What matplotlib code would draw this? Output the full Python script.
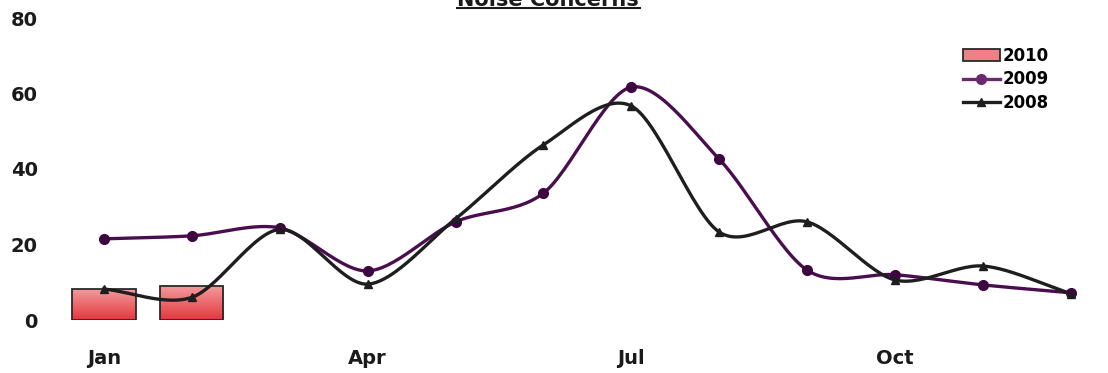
import numpy as np
import matplotlib.pyplot as plt
from matplotlib.colors import LinearSegmentedColormap
from matplotlib.patches import Patch
from matplotlib.lines import Line2D

months = ['Jan', 'Feb', 'Mar', 'Apr', 'May', 'Jun', 'Jul', 'Aug', 'Sep', 'Oct', 'Nov', 'Dec']
shown_ticks = ['Jan', 'Apr', 'Jul', 'Oct']
vals_2010 = [8.2, 9.0]
vals_2009 = [21.5, 22.3, 24.4, 13.0, 26.0, 33.6, 61.7, 42.6, 13.2, 12.0, 9.3, 7.2]
vals_2008 = [8.2, 6.0, 24.0, 9.5, 26.8, 46.4, 56.7, 23.3, 26.0, 10.6, 14.3, 7.0]


def smooth(x, y, n=30):
    # Catmull-Rom style curve through the points, like Excel's smoothed lines
    x = np.asarray(x, float)
    y = np.asarray(y, float)
    px = np.concatenate([[2 * x[0] - x[1]], x, [2 * x[-1] - x[-2]]])
    py = np.concatenate([[2 * y[0] - y[1]], y, [2 * y[-1] - y[-2]]])
    xs, ys = [], []
    t = np.linspace(0, 1, n)
    for i in range(1, len(px) - 2):
        p0, p1, p2, p3 = [np.array([px[j], py[j]]) for j in range(i - 1, i + 3)]
        m1 = (p2 - p0) / 2 * 0.9
        m2 = (p3 - p1) / 2 * 0.9
        h00 = 2 * t**3 - 3 * t**2 + 1
        h10 = t**3 - 2 * t**2 + t
        h01 = -2 * t**3 + 3 * t**2
        h11 = t**3 - t**2
        pts = np.outer(h00, p1) + np.outer(h10, m1) + np.outer(h01, p2) + np.outer(h11, m2)
        xs.extend(pts[:, 0])
        ys.extend(pts[:, 1])
    return np.array(xs), np.array(ys)


fig = plt.figure(figsize=(11.08, 3.73), dpi=100)
ax = fig.add_axes([60 / 1108, 53 / 373, 1046 / 1108, 302 / 373])

x = np.arange(len(months))

# 2010 bars with a red-to-pink gradient
bars = ax.bar(x[:len(vals_2010)], vals_2010, width=0.72, color='#ee5a60',
              linewidth=0, zorder=2)
cmap = LinearSegmentedColormap.from_list('rg', ['#e4373c', '#f39a9d'])
grad = np.linspace(0, 1, 100).reshape(-1, 1)
for b in bars:
    bx, by = b.get_x(), b.get_y()
    im = ax.imshow(grad, cmap=cmap, aspect='auto', origin='lower',
                   extent=[bx, bx + b.get_width(), by, by + b.get_height()], zorder=2)
    im.set_clip_path(b)
ax.bar(x[:len(vals_2010)], vals_2010, width=0.72, fill=False,
       edgecolor='#2a2a2a', linewidth=1.3, zorder=2.5)

sx, sy = smooth(x, vals_2009)
ax.plot(sx, sy, color='#4a0d4e', lw=2.4, zorder=3)
ax.plot(x, vals_2009, 'o', color='#3d0740', ms=7, zorder=4)

sx, sy = smooth(x, vals_2008)
ax.plot(sx, sy, color='#1e1e1e', lw=2.4, zorder=3)
ax.plot(x, vals_2008, '^', color='#1e1e1e', ms=6, zorder=4)

ax.set_xlim(-0.5, 11.4)
ax.set_ylim(0, 80)
ax.set_yticks([0, 20, 40, 60, 80])
ax.set_xticks([months.index(m) for m in shown_ticks])
ax.set_xticklabels(shown_ticks)
for s in ax.spines.values():
    s.set_visible(False)
ax.tick_params(length=0, labelsize=14, colors='#1a1a1a')
ax.tick_params(axis='x', pad=21)
ax.tick_params(axis='y', pad=16)
for lab in ax.get_xticklabels() + ax.get_yticklabels():
    lab.set_fontweight('bold')

# title sits mostly above the visible area, as in the scanned original
fig.text(548 / 1108, 1.0, 'Noise Concerns', fontsize=15, fontweight='bold',
         ha='center', va='center', color='#1a1a1a')
fig.add_artist(Line2D([457 / 1108, 640 / 1108], [1 - 8 / 373, 1 - 8 / 373],
                      color='#1a1a1a', lw=1.5))

handles = [Patch(facecolor='#f08085', edgecolor='#2a2a2a', linewidth=1.3),
           Line2D([], [], color='#6b2a6e', lw=2.4, marker='o', ms=7),
           Line2D([], [], color='#1e1e1e', lw=2.4, marker='^', ms=6)]
ax.legend(handles, ['2010', '2009', '2008'], loc='upper right',
          bbox_to_anchor=(0.96, 0.955), frameon=False,
          prop={'weight': 'bold', 'size': 12}, handlelength=2.2,
          handletextpad=0.2, labelspacing=0.35)

fig.savefig('out.png', dpi=100)
